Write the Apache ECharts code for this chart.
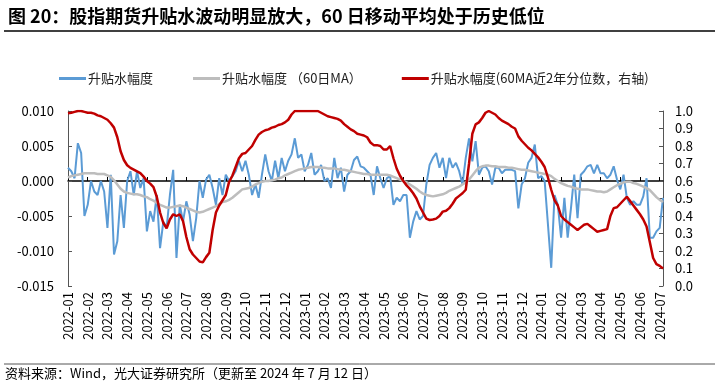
<!DOCTYPE html>
<html><head><meta charset="utf-8">
<script src="https://cdn.jsdelivr.net/npm/echarts@6/dist/echarts.min.js"></script>
<style>html,body{margin:0;padding:0;background:#fff}#c{width:719px;height:385px}</style>
</head><body><div id="c"></div>
<script>
var months = ['2022-01','2022-02','2022-03','2022-04','2022-05','2022-06','2022-07','2022-08','2022-09','2022-10','2022-11','2022-12',
'2023-01','2023-02','2023-03','2023-04','2023-05','2023-06','2023-07','2023-08','2023-09','2023-10','2023-11','2023-12',
'2024-01','2024-02','2024-03','2024-04','2024-05','2024-06','2024-07'];
var sampleDays = ['01','06','11','16','21','26'];

var basis = [0.0019,0.0014,0.0004,0.0054,0.004,-0.005,-0.0034,0.0,-0.0015,-0.002,
0.0,-0.0015,-0.0067,0.0009,-0.0105,-0.0086,-0.002,-0.0067,0.0,0.0014,
-0.002,0.0014,-0.001,0.0004,-0.0072,-0.0043,-0.0058,-0.002,-0.0096,-0.0058,
-0.0067,-0.002,0.0016,-0.011,-0.0034,-0.0058,-0.0029,-0.0048,-0.0086,-0.0053,
0.0,-0.0024,0.0002,0.0009,-0.001,-0.0034,0.0004,-0.002,0.0009,0.0,
0.0007,0.0014,0.0029,0.0014,0.0029,0.0009,-0.002,-0.0005,-0.0024,0.0009,
0.0038,0.0014,0.0,0.0029,0.0004,0.0033,0.0014,0.0029,0.0038,0.0061,
0.0033,0.0038,0.0014,0.0023,0.004,0.0009,0.0014,0.0023,0.0,0.0004,
-0.001,0.0033,0.0004,0.0019,-0.0015,0.0009,0.0014,0.003,0.0035,
0.0021,0.0019,0.0014,0.0009,-0.002,0.0021,0.0004,-0.001,0.0004,0.0007,
-0.0034,-0.0024,-0.0029,-0.002,-0.002,-0.0081,-0.0058,-0.0043,-0.0055,-0.005,
-0.0005,0.0023,0.0033,0.004,0.0019,0.0033,0.0004,0.0033,0.0019,0.0026,
0.0014,-0.0005,0.0033,0.0061,0.0028,0.0057,0.0009,0.0019,0.0021,0.0014,
-0.0005,0.0019,0.0019,0.0011,0.0016,0.0016,0.0016,0.0014,-0.0039,-0.0005,
0.0004,0.0026,0.0033,0.0052,0.0004,0.0007,0.0,-0.0062,-0.0124,-0.002,
-0.0034,-0.0081,-0.0024,-0.0081,-0.0039,0.0009,-0.0053,0.0009,0.0014,0.0021,
0.0023,0.0011,0.0023,0.0011,0.0011,0.0004,0.0009,0.0021,0.0002,-0.0012,
0.0009,-0.0024,-0.0034,-0.0029,-0.0034,-0.0034,-0.0022,0.0004,-0.0081,-0.0081,
-0.0072,-0.0067,-0.0024];

var basisMA60 = [0.0005,0.0007,0.0008,0.0009,0.001,0.0011,0.0011,0.0011,0.0011,0.001,
0.001,0.001,0.0008,0.0006,0.0001,-0.0005,-0.0011,-0.0015,-0.0017,-0.0018,
-0.0019,-0.0019,-0.002,-0.0022,-0.0023,-0.0026,-0.0028,-0.0031,-0.0034,-0.0036,
-0.0038,-0.0038,-0.0037,-0.0036,-0.0035,-0.0036,-0.0038,-0.004,-0.0042,-0.0044,
-0.0045,-0.0044,-0.0042,-0.004,-0.0038,-0.0036,-0.0033,-0.003,-0.0029,-0.0027,
-0.0024,-0.002,-0.0016,-0.0012,-0.0011,-0.001,-0.0008,-0.0005,-0.0003,-0.0001,
0.0,0.0,0.0001,0.0002,0.0004,0.0005,0.0008,0.001,0.0012,0.0014,
0.0016,0.0017,0.0018,0.0019,0.002,0.002,0.002,0.0019,0.0019,0.0018,
0.0018,0.0018,0.0017,0.0016,0.0016,0.0015,0.0014,0.0013,0.0012,0.0011,
0.001,0.001,0.0009,0.0009,0.0009,0.0009,0.0009,0.0009,0.0008,0.0006,
0.0004,0.0002,0.0,-0.0002,-0.0005,-0.0008,-0.0011,-0.0015,-0.0018,-0.002,
-0.0021,-0.0022,-0.0021,-0.002,-0.0019,-0.0017,-0.0014,-0.0012,-0.001,-0.0008,
-0.0005,-0.0002,0.0002,0.0008,0.0014,0.0019,0.0021,0.0022,0.0022,0.0021,
0.0021,0.002,0.002,0.002,0.0019,0.0019,0.0018,0.0017,0.0016,0.0016,
0.0015,0.0014,0.0013,0.0012,0.0011,0.001,0.0009,0.0007,0.0003,0.0,
-0.0003,-0.0005,-0.0007,-0.0008,-0.001,-0.0011,-0.0012,-0.0012,-0.0012,-0.0013,
-0.0014,-0.0015,-0.0015,-0.0016,-0.0015,-0.0012,-0.0009,-0.0006,-0.0004,-0.0002,
-0.0001,-0.0001,-0.0003,-0.0004,-0.0006,-0.0008,-0.001,-0.0013,-0.0018,-0.0023,
-0.0027,-0.003];

var maPercentile = [0.987,0.99,0.995,1.0,1.0,0.995,0.99,0.99,0.985,0.975,
0.97,0.96,0.95,0.93,0.905,0.85,0.77,0.72,0.69,0.675,
0.665,0.655,0.645,0.625,0.60,0.585,0.565,0.51,0.42,0.36,
0.33,0.38,0.41,0.40,0.41,0.37,0.28,0.21,0.18,0.16,
0.14,0.135,0.165,0.19,0.32,0.42,0.46,0.49,0.52,0.595,
0.63,0.68,0.73,0.755,0.76,0.78,0.80,0.835,0.865,0.88,
0.89,0.895,0.905,0.91,0.92,0.925,0.935,0.95,0.98,1.0,
1.0,1.0,1.0,1.0,1.0,1.0,1.0,0.99,0.98,0.97,
0.965,0.96,0.955,0.945,0.925,0.91,0.895,0.885,0.87,0.865,
0.86,0.85,0.82,0.805,0.805,0.80,0.78,0.78,0.80,0.73,
0.67,0.63,0.60,0.575,0.555,0.53,0.50,0.455,0.42,0.385,
0.377,0.38,0.385,0.40,0.425,0.43,0.445,0.47,0.50,0.515,
0.53,0.55,0.70,0.87,0.924,0.935,0.96,0.99,1.0,0.99,
0.98,0.96,0.945,0.935,0.925,0.91,0.90,0.855,0.83,0.81,
0.79,0.775,0.755,0.735,0.71,0.68,0.62,0.55,0.49,0.46,
0.40,0.38,0.365,0.35,0.335,0.32,0.335,0.35,0.355,0.34,
0.325,0.31,0.315,0.32,0.325,0.40,0.445,0.45,0.47,0.49,
0.51,0.485,0.46,0.435,0.41,0.38,0.34,0.25,0.16,0.125,
0.115,0.10];

var categories = [];
months.forEach(function(m){ sampleDays.forEach(function(d){ categories.push(m + '-' + d); }); });
categories = categories.slice(0, basis.length);

var FONT = '"Noto Sans CJK SC", "Noto Sans", sans-serif';
var names = ['升贴水幅度', '升贴水幅度 （60日MA）', '升贴水幅度(60MA近2年分位数，右轴)'];

var chart = echarts.init(document.getElementById('c'), null, {renderer: 'canvas'});
chart.setOption({
  animation: false,
  backgroundColor: '#fff',
  textStyle: {fontFamily: FONT},
  title: {
    text: '图 20：股指期货升贴水波动明显放大，60 日移动平均处于历史低位',
    left: 3, top: 2,
    textStyle: {fontSize: 18, fontWeight: 'bold', color: '#000', fontFamily: FONT}
  },
  legend: {
    data: names,
    left: 54, top: 67,
    itemWidth: 27, itemHeight: 3, itemGap: 40,
    icon: 'rect',
    textStyle: {fontSize: 13, color: '#222', fontFamily: FONT, padding: [0,0,0,-3]}
  },
  grid: {left: 68, right: 56, top: 111, bottom: 99, containLabel: false},
  xAxis: [{
    type: 'category', data: categories, boundaryGap: false, position: 'bottom',
    axisLine: {show: false}, axisTick: {show: false},
    axisLabel: {interval: 5, rotate: 90, fontSize: 13, color: '#000', margin: 6, fontFamily: FONT,
      formatter: function(v){ return v.slice(0, 7); }},
    splitLine: {show: false}
  }, {
    type: 'category', data: categories, boundaryGap: false, position: 'bottom',
    axisLine: {show: true, onZero: true, onZeroAxisIndex: 0, lineStyle: {color: '#000', width: 1.5}},
    axisTick: {show: true, inside: true, interval: 5, length: 4, lineStyle: {color: '#000'}},
    axisLabel: {show: false},
    splitLine: {show: false}
  }],
  yAxis: [{
    type: 'value', min: -0.015, max: 0.010, interval: 0.005,
    axisLine: {show: true, lineStyle: {color: '#555'}},
    axisTick: {show: true, inside: true, length: 4, lineStyle: {color: '#555'}},
    axisLabel: {fontSize: 13, color: '#000', margin: 14, fontFamily: FONT,
      formatter: function(v){ return v.toFixed(3); }},
    splitLine: {show: false}
  }, {
    type: 'value', min: 0, max: 1, interval: 0.1, position: 'right',
    axisLine: {show: true, lineStyle: {color: '#555'}},
    axisTick: {show: true, inside: true, length: 4, lineStyle: {color: '#555'}},
    axisLabel: {fontSize: 13, color: '#000', margin: 12, fontFamily: FONT,
      formatter: function(v){ return v.toFixed(1); }},
    splitLine: {show: false}
  }],
  series: [{
    name: names[0], type: 'line', data: basis, xAxisIndex: 0, yAxisIndex: 0,
    showSymbol: false, symbol: 'none', lineStyle: {color: '#5B9BD5', width: 2}, itemStyle: {color: '#5B9BD5'}
  }, {
    name: names[1], type: 'line', data: basisMA60, xAxisIndex: 0, yAxisIndex: 0,
    showSymbol: false, symbol: 'none', lineStyle: {color: '#BDBDBD', width: 2.5}, itemStyle: {color: '#BDBDBD'}
  }, {
    name: names[2], type: 'line', data: maPercentile, xAxisIndex: 0, yAxisIndex: 1,
    showSymbol: false, symbol: 'none', lineStyle: {color: '#C00000', width: 2.5}, itemStyle: {color: '#C00000'}
  }],
  graphic: [
    {type: 'line', shape: {x1: 4, y1: 31, x2: 715, y2: 31}, style: {stroke: '#000', lineWidth: 1.5}},
    {type: 'line', shape: {x1: 4, y1: 364, x2: 715, y2: 364}, style: {stroke: '#555', lineWidth: 1}},
    {type: 'text', left: 5, top: 367, style: {text: '资料来源：Wind，光大证券研究所（更新至 2024 年 7 月 12 日）', fill: '#000', font: '13px ' + FONT}}
  ]
});
</script></body></html>
